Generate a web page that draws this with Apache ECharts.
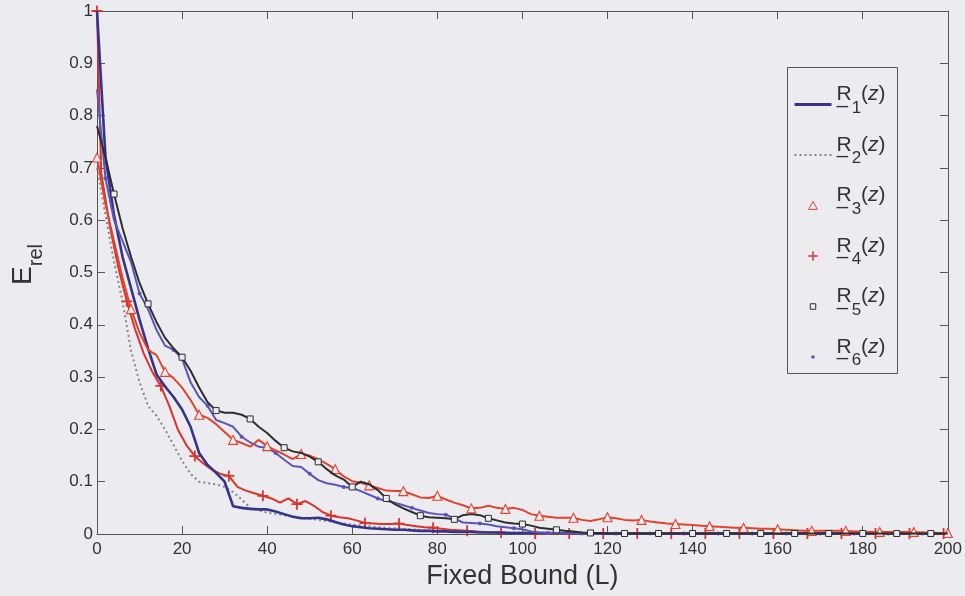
<!DOCTYPE html>
<html>
<head>
<meta charset="utf-8">
<script src="https://cdn.jsdelivr.net/npm/echarts@6/dist/echarts.min.js"></script>
<style>
  html, body { margin: 0; padding: 0; background: #ececf0; }
  #chart { width: 965px; height: 596px; }
</style>
</head>
<body>
<div id="chart"></div>
<script>
// x positions: even bounds 0..200 for most curves, odd bounds for R4
const xEven = [];
for (let x = 0; x <= 200; x += 2) xEven.push(x);
const xOdd = [0];
for (let x = 1; x < 200; x += 2) xOdd.push(x);

const xTicks = [0, 20, 40, 60, 80, 100, 120, 140, 160, 180, 200];
const yTicks = [0, 0.1, 0.2, 0.3, 0.4, 0.5, 0.6, 0.7, 0.8, 0.9, 1];

// relative error values, one per bound
const r1 = [
  1.0, 0.72, 0.61, 0.53, 0.47, 0.41, 0.355, 0.305, 0.282, 0.262,
  0.238, 0.205, 0.155, 0.132, 0.117, 0.1, 0.053, 0.05, 0.048, 0.047,
  0.047, 0.043, 0.038, 0.033, 0.03, 0.03, 0.031, 0.028, 0.023, 0.018,
  0.015, 0.013, 0.011, 0.01, 0.009, 0.008, 0.008, 0.007, 0.006, 0.006,
  0.005, 0.005, 0.004, 0.004, 0.004, 0.003, 0.003, 0.003, 0.002, 0.002,
  0.002, 0.002, 0.002, 0.002, 0.002, 0.002, 0.002, 0.001, 0.001, 0.001,
  0.001, 0.001, 0.001, 0.001, 0.001, 0.001, 0.001, 0.001, 0.001, 0.001,
  0.001, 0.001, 0.001, 0.001, 0.001, 0.001, 0.001, 0.001, 0.001, 0.001,
  0.001, 0.001, 0.001, 0.001, 0.001, 0.001, 0.001, 0.001, 0.001, 0.001,
  0.001, 0.001, 0.001, 0.001, 0.001, 0.001, 0.001, 0.001, 0.001, 0.001,
  0.001
];
const r2 = [
  0.7, 0.61, 0.52, 0.445, 0.35, 0.29, 0.245, 0.226, 0.2, 0.17,
  0.14, 0.115, 0.1, 0.097, 0.095, 0.09, 0.08, 0.066, 0.05, 0.045,
  0.041, 0.038, 0.036, 0.034, 0.031, 0.029, 0.027, 0.025, 0.022, 0.02,
  0.018, 0.016, 0.015, 0.013, 0.012, 0.011, 0.01, 0.009, 0.008, 0.007,
  0.006, 0.006, 0.005, 0.005, 0.004, 0.004, 0.003, 0.003, 0.003, 0.003,
  0.003, 0.002, 0.002, 0.002, 0.002, 0.002, 0.002, 0.002, 0.001, 0.001,
  0.001, 0.001, 0.001, 0.001, 0.001, 0.001, 0.001, 0.001, 0.001, 0.001,
  0.001, 0.001, 0.001, 0.001, 0.001, 0.001, 0.001, 0.001, 0.001, 0.001,
  0.001, 0.001, 0.001, 0.001, 0.001, 0.001, 0.001, 0.001, 0.001, 0.001,
  0.001, 0.001, 0.001, 0.001, 0.001, 0.001, 0.001, 0.001, 0.001, 0.001,
  0.001
];
const r3 = [
  0.72, 0.63, 0.56, 0.49, 0.43, 0.385, 0.352, 0.342, 0.31, 0.298,
  0.28, 0.256, 0.228, 0.222, 0.21, 0.195, 0.18, 0.174, 0.167, 0.18,
  0.168, 0.16, 0.152, 0.143, 0.153, 0.15, 0.143, 0.134, 0.124, 0.11,
  0.101, 0.098, 0.093, 0.088, 0.083, 0.082, 0.082, 0.076, 0.07, 0.069,
  0.073, 0.066, 0.06, 0.055, 0.049, 0.05, 0.054, 0.05, 0.048, 0.05,
  0.046, 0.038, 0.035, 0.033, 0.031, 0.031, 0.031, 0.027, 0.025, 0.028,
  0.032, 0.03, 0.027, 0.026, 0.027, 0.024, 0.022, 0.02, 0.019, 0.018,
  0.017, 0.016, 0.015, 0.014, 0.013, 0.012, 0.012, 0.011, 0.01, 0.01,
  0.009, 0.008, 0.007, 0.006, 0.006, 0.006, 0.006, 0.006, 0.006, 0.005,
  0.005, 0.004, 0.004, 0.004, 0.004, 0.004, 0.004, 0.003, 0.003, 0.002,
  0.002
];
// R4 is sampled on xOdd
const r4 = [
  1.0,
  0.69, 0.59, 0.51, 0.445, 0.39, 0.345, 0.31, 0.283, 0.245, 0.2,
  0.17, 0.149, 0.135, 0.123, 0.115, 0.111, 0.09, 0.083, 0.078, 0.073,
  0.068, 0.06, 0.068, 0.057, 0.063, 0.054, 0.042, 0.035, 0.032, 0.03,
  0.026, 0.021, 0.02, 0.019, 0.019, 0.02, 0.017, 0.015, 0.013, 0.012,
  0.01, 0.008, 0.007, 0.006, 0.005, 0.004, 0.003, 0.003, 0.002, 0.002,
  0.002, 0.001, 0.001, 0.001, 0.001, 0.001, 0.001, 0.001, 0.001, 0.001,
  0.001, 0.001, 0.001, 0.001, 0.001, 0.001, 0.001, 0.001, 0.001, 0.001,
  0.001, 0.001, 0.001, 0.001, 0.001, 0.001, 0.001, 0.001, 0.001, 0.001,
  0.001, 0.001, 0.001, 0.001, 0.001, 0.001, 0.001, 0.001, 0.001, 0.001,
  0.001, 0.001, 0.001, 0.001, 0.001, 0.001, 0.001, 0.001, 0.001, 0.001
];
const r5 = [
  0.78, 0.72, 0.65, 0.585, 0.53, 0.48, 0.44, 0.405, 0.375, 0.355,
  0.338, 0.312, 0.28, 0.252, 0.236, 0.232, 0.232, 0.228, 0.22, 0.205,
  0.193, 0.178, 0.165, 0.158, 0.155, 0.148, 0.138, 0.124, 0.112, 0.104,
  0.09, 0.1, 0.095, 0.084, 0.068, 0.057, 0.049, 0.042, 0.035, 0.032,
  0.031, 0.03, 0.028, 0.036, 0.038, 0.036, 0.03, 0.026, 0.022, 0.02,
  0.019, 0.016, 0.012, 0.01, 0.008, 0.006, 0.005, 0.003, 0.002, 0.002,
  0.001, 0.001, 0.001, 0.001, 0.001, 0.001, 0.001, 0.001, 0.001, 0.001,
  0.001, 0.001, 0.001, 0.001, 0.001, 0.001, 0.001, 0.001, 0.001, 0.001,
  0.001, 0.001, 0.001, 0.001, 0.001, 0.001, 0.001, 0.001, 0.001, 0.001,
  0.001, 0.001, 0.001, 0.001, 0.001, 0.001, 0.001, 0.001, 0.001, 0.001,
  0.001
];
const r6 = [
  0.85, 0.68, 0.6, 0.56, 0.52, 0.46, 0.43, 0.39, 0.36, 0.352,
  0.335, 0.29, 0.262, 0.245, 0.218, 0.212, 0.205, 0.186, 0.175, 0.167,
  0.165, 0.155, 0.142, 0.13, 0.128, 0.115, 0.103, 0.097, 0.094, 0.09,
  0.088, 0.082, 0.075, 0.068, 0.063, 0.06, 0.055, 0.05, 0.045, 0.04,
  0.038, 0.037, 0.03, 0.022, 0.021, 0.02, 0.018, 0.015, 0.013, 0.011,
  0.009, 0.005, 0.003, 0.002, 0.002, 0.001, 0.001, 0.001, 0.001, 0.001,
  0.001, 0.001, 0.001, 0.001, 0.001, 0.001, 0.001, 0.001, 0.001, 0.001,
  0.001, 0.001, 0.001, 0.001, 0.001, 0.001, 0.001, 0.001, 0.001, 0.001,
  0.001, 0.001, 0.001, 0.001, 0.001, 0.001, 0.001, 0.001, 0.001, 0.001,
  0.001, 0.001, 0.001, 0.001, 0.001, 0.001, 0.001, 0.001, 0.001, 0.001,
  0.001
];

const subscripts = { R1: '1', R2: '2', R3: '3', R4: '4', R5: '5', R6: '6' };

const FONT = '"Liberation Sans", Arial, Helvetica, sans-serif';
const BG = '#ececf0';
const AX = '#555555';
const TXT = '#333333';
const C1 = '#34348c';
const C2 = '#858585';
const C3 = '#e2432d';
const C4 = '#db3329';
const C5 = '#2e2e2e';
const C6 = '#5a55b8';

const PLUS = 'path://M4.2,0H5.8V4.2H10V5.8H5.8V10H4.2V5.8H0V4.2H4.2Z';
// legend glyphs: the leading moves fix a 10x10 box so the glyph keeps a small size
const ICON_TRI = 'path://M0,0M10,10M5,1.3L9,8.5H1Z';
const ICON_PLUS = 'path://M0,0M10,10M4.35,0.6H5.65V4.35H9.4V5.65H5.65V9.4H4.35V5.65H0.6V4.35H4.35Z';
const ICON_SQ = 'path://M0,0M10,10M2.5,2.5H7.5V7.5H2.5Z';
const ICON_DOT = 'path://M0,0M10,10M3.4,5A1.6,1.6,0,1,0,6.6,5A1.6,1.6,0,1,0,3.4,5Z';

// pair x/y; keep the symbol only where the marker test passes
function points(xs, ys, isMarker) {
  return xs.map((x, i) => (isMarker && isMarker(x))
    ? [x, ys[i]]
    : { value: [x, ys[i]], symbol: 'none' });
}

const base = {
  type: 'line',
  showAllSymbol: true,
  animation: false,
  emphasis: { disabled: true },
  silent: true
};

const series = [
  Object.assign({}, base, {
    name: 'R2', data: points(xEven, r2, null), symbol: 'none', z: 2,
    lineStyle: { color: C2, width: 2, type: [2, 3] }, itemStyle: { color: C2 }
  }),
  Object.assign({}, base, {
    name: 'R4', data: points(xOdd, r4, x => x === 0 || x % 8 === 7), z: 3,
    symbol: PLUS, symbolSize: 11, symbolKeepAspect: true,
    lineStyle: { color: C4, width: 2 }, itemStyle: { color: C4 }
  }),
  Object.assign({}, base, {
    name: 'R1', data: points(xEven, r1, null), symbol: 'none', z: 4,
    lineStyle: { color: C1, width: 2.6 }, itemStyle: { color: C1 }
  }),
  Object.assign({}, base, {
    name: 'R6', data: points(xEven, r6, x => x % 8 === 2), z: 5,
    symbol: 'circle', symbolSize: 4,
    lineStyle: { color: C6, width: 2 }, itemStyle: { color: C6 }
  }),
  Object.assign({}, base, {
    name: 'R3', data: points(xEven, r3, x => x % 8 === 0), z: 6,
    symbol: 'triangle', symbolSize: 9,
    lineStyle: { color: C3, width: 2 },
    itemStyle: { color: BG, borderColor: C3, borderWidth: 1.1 }
  }),
  Object.assign({}, base, {
    name: 'R5', data: points(xEven, r5, x => x % 8 === 4), z: 7,
    symbol: 'rect', symbolSize: 6,
    lineStyle: { color: C5, width: 2 },
    itemStyle: { color: BG, borderColor: C5, borderWidth: 1 }
  })
];

function axisCommon() {
  return {
    type: 'value',
    axisLine: { show: true, onZero: false, lineStyle: { color: AX, width: 1 } },
    axisTick: { show: true, inside: true, length: 8, lineStyle: { color: AX, width: 1 } },
    splitLine: { show: false },
    minorTick: { show: false }
  };
}

const legendRich = {
  u: { fontSize: 21, lineHeight: 17, verticalAlign: 'bottom', width: 0, color: TXT, fontFamily: FONT },
  r: { fontSize: 21, lineHeight: 44, verticalAlign: 'middle', color: TXT, fontFamily: FONT },
  s: { fontSize: 17, lineHeight: 17, verticalAlign: 'bottom', color: TXT, fontFamily: FONT },
  p: { fontSize: 21, lineHeight: 44, verticalAlign: 'middle', color: TXT, fontFamily: FONT },
  i: { fontSize: 21, lineHeight: 44, verticalAlign: 'middle', fontStyle: 'italic', color: TXT, fontFamily: FONT }
};

const option = {
  backgroundColor: BG,
  animation: false,
  textStyle: { fontFamily: FONT, color: TXT },
  grid: { left: 97, right: 15, top: 11, bottom: 62, containLabel: false },
  xAxis: [
    Object.assign(axisCommon(), {
      position: 'bottom', min: xTicks[0], max: xTicks[xTicks.length - 1], interval: 20,
      axisLabel: { color: TXT, fontSize: 17, fontFamily: FONT, margin: 7 },
      name: 'Fixed Bound (L)', nameLocation: 'middle', nameGap: 26,
      nameTextStyle: { fontSize: 27, color: TXT, fontFamily: FONT }
    }),
    Object.assign(axisCommon(), {
      position: 'top', min: xTicks[0], max: xTicks[xTicks.length - 1], interval: 20,
      axisLabel: { show: false }
    })
  ],
  yAxis: [
    Object.assign(axisCommon(), {
      position: 'left', min: yTicks[0], max: yTicks[yTicks.length - 1], interval: 0.1,
      axisLabel: { color: TXT, fontSize: 17, fontFamily: FONT, margin: 4 },
      name: '{e|E}{s|rel}', nameLocation: 'middle', nameRotate: 90, nameGap: 51,
      nameTextStyle: {
        color: TXT, fontFamily: FONT, padding: [0, 0, 0, 16],
        rich: {
          e: { fontSize: 28, lineHeight: 46, verticalAlign: 'middle', color: TXT, fontFamily: FONT },
          s: { fontSize: 20, lineHeight: 20, verticalAlign: 'bottom', color: TXT, fontFamily: FONT }
        }
      }
    }),
    Object.assign(axisCommon(), {
      position: 'right', min: yTicks[0], max: yTicks[yTicks.length - 1], interval: 0.1,
      axisLabel: { show: false }
    })
  ],
  graphic: [{
    type: 'rect', z: 3, silent: true,
    shape: { x: 787.5, y: 67.5, width: 110, height: 306 },
    style: { fill: BG, stroke: AX, lineWidth: 1 }
  }],
  legend: {
    orient: 'vertical', left: 793, top: 84, z: 5,
    padding: 0, itemGap: 18, itemWidth: 37, itemHeight: 11,
    selectedMode: false, inactiveColor: TXT,
    formatter: name => '{u|\u2013}{r|R}{s|' + subscripts[name] + '}{p|(}{i|z}{p|)}',
    textStyle: { fontFamily: FONT, fontSize: 21, color: TXT, padding: [0, 0, 20, 0], rich: legendRich },
    data: [
      { name: 'R1', itemStyle: { opacity: 0 }, lineStyle: { color: C1, width: 3, type: 'solid' } },
      { name: 'R2', itemStyle: { opacity: 0 }, lineStyle: { color: C2, width: 2, type: [2, 3] } },
      { name: 'R3', icon: ICON_TRI, itemStyle: { color: BG, borderColor: C3, borderWidth: 1 } },
      { name: 'R4', icon: ICON_PLUS, itemStyle: { color: C4, borderWidth: 0 } },
      { name: 'R5', icon: ICON_SQ, itemStyle: { color: BG, borderColor: C5, borderWidth: 1 } },
      { name: 'R6', icon: ICON_DOT, itemStyle: { color: C6, borderWidth: 0 } }
    ]
  },
  series: series
};

const chart = echarts.init(document.getElementById('chart'), null, { renderer: 'canvas' });
chart.setOption(option);
</script>
</body>
</html>
